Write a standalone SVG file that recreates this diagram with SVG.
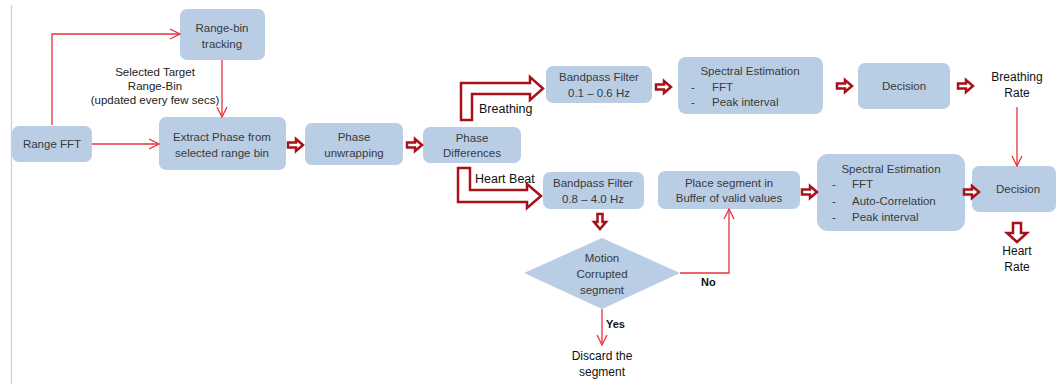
<svg xmlns="http://www.w3.org/2000/svg" width="1057" height="385" viewBox="0 0 1057 385">
<defs>
<style>
.box{fill:#b9cde5;stroke:none}
.bt{font-family:"Liberation Sans",Arial,sans-serif;font-size:11.5px;fill:#3a3a3a;text-anchor:middle}
.bl{font-family:"Liberation Sans",Arial,sans-serif;font-size:11.5px;fill:#3a3a3a}
.lb{font-family:"Liberation Sans",Arial,sans-serif;font-size:12px;fill:#111;text-anchor:middle}
.lbs{font-family:"Liberation Sans",Arial,sans-serif;font-size:11.5px;fill:#222;text-anchor:middle}
.yn{font-family:"Liberation Sans",Arial,sans-serif;font-size:11px;font-weight:bold;fill:#111}
.ln{fill:none;stroke:#e8323c;stroke-width:1.3}
.blk{fill:#fff;stroke:#a8101a;stroke-width:2.5;stroke-linejoin:miter}
</style>
<marker id="ah" viewBox="0 0 12 12" refX="11" refY="6" markerWidth="12" markerHeight="12" markerUnits="userSpaceOnUse" orient="auto">
<path d="M1,1 L11,6 L1,11" fill="none" stroke="#e8323c" stroke-width="1.3"/>
</marker>
<path id="sa" d="M0,-2.5 L8,-2.5 L8,-6 L15,0 L8,6 L8,2.5 L0,2.5 Z"/>
</defs>
<rect width="1057" height="385" fill="#fff"/>
<line x1="11.5" y1="5" x2="11.5" y2="384" stroke="#d0d0d0" stroke-width="1.3"/>

<g id="range-fft"><rect class="box" x="12" y="126" width="80" height="36" rx="7"/><text class="bt" x="52" y="148">Range FFT</text></g>
<g id="range-bin-tracking"><rect class="box" x="180" y="9" width="85" height="51" rx="7"/><text class="bt" x="222" y="32">Range-bin</text><text class="bt" x="222" y="48">tracking</text></g>
<g id="selected-label"><text class="lbs" x="155" y="76">Selected Target</text><text class="lbs" x="155" y="90">Range-Bin</text><text class="lbs" x="155" y="104">(updated every few secs)</text></g>
<g id="extract-phase"><rect class="box" x="159" y="117" width="127" height="53" rx="7"/><text class="bt" x="222" y="141">Extract Phase from</text><text class="bt" x="222" y="157">selected  range bin</text></g>
<g id="phase-unwrapping"><rect class="box" x="305" y="123" width="98" height="42" rx="7"/><text class="bt" x="354" y="141">Phase</text><text class="bt" x="354" y="157">unwrapping</text></g>
<g id="phase-differences"><rect class="box" x="423" y="127" width="98" height="36" rx="7"/><text class="bt" x="472" y="142">Phase</text><text class="bt" x="472" y="157">Differences</text></g>
<g id="breathing-label"><text class="bl" x="479" y="113" style="font-size:12.5px;fill:#111">Breathing</text></g>
<g id="heartbeat-label"><text class="bl" x="475" y="183" style="font-size:12.5px;fill:#111">Heart Beat</text></g>
<g id="bpf-breathing"><rect class="box" x="546" y="66" width="106" height="37" rx="7"/><text class="bt" x="599" y="81">Bandpass Filter</text><text class="bt" x="599" y="97">0.1 – 0.6 Hz</text></g>
<g id="spectral-breathing"><rect class="box" x="678" y="57" width="145" height="57" rx="8"/><text class="bt" x="750" y="75">Spectral Estimation</text><text class="bl" x="691" y="91">-</text><text class="bl" x="712" y="91">FFT</text><text class="bl" x="691" y="106">-</text><text class="bl" x="712" y="106">Peak interval</text></g>
<g id="decision-breathing"><rect class="box" x="858" y="63" width="92" height="46" rx="7"/><text class="bt" x="904" y="90">Decision</text></g>
<g id="breathing-rate"><text class="lb" x="1017" y="81">Breathing</text><text class="lb" x="1017" y="97">Rate</text></g>
<g id="bpf-heart"><rect class="box" x="543" y="172" width="101" height="37" rx="7"/><text class="bt" x="593" y="187">Bandpass Filter</text><text class="bt" x="593" y="203">0.8 – 4.0 Hz</text></g>
<g id="place-segment"><rect class="box" x="658" y="171" width="142" height="38" rx="7"/><text class="bt" x="729" y="187">Place segment in</text><text class="bt" x="729" y="202">Buffer of valid values</text></g>
<g id="spectral-heart"><rect class="box" x="817" y="154" width="148" height="77" rx="11"/><text class="bt" x="891" y="173">Spectral Estimation</text><text class="bl" x="832" y="188">-</text><text class="bl" x="852" y="188">FFT</text><text class="bl" x="832" y="205">-</text><text class="bl" x="852" y="205">Auto-Correlation</text><text class="bl" x="832" y="221">-</text><text class="bl" x="852" y="221">Peak interval</text></g>
<g id="decision-heart"><rect class="box" x="972" y="166" width="84" height="46" rx="7"/><text class="bt" x="1018" y="193">Decision</text></g>
<g id="heart-rate"><text class="lb" x="1017" y="255">Heart</text><text class="lb" x="1017" y="271">Rate</text></g>
<g id="motion-corrupted"><polygon class="box" points="602,238 680,273 602,309 524,273"/><text class="bt" x="602" y="262">Motion</text><text class="bt" x="602" y="278">Corrupted</text><text class="bt" x="602" y="294">segment</text></g>
<g id="no-label"><text class="yn" x="701" y="286">No</text></g>
<g id="yes-label"><text class="yn" x="606" y="328">Yes</text></g>
<g id="discard"><text class="lb" x="602" y="360">Discard the</text><text class="lb" x="602" y="376">segment</text></g>

<g id="connectors">
<path class="ln" d="M52,125 L52,34 L180,34" marker-end="url(#ah)"/>
<path class="ln" d="M92,144 L159,144" marker-end="url(#ah)"/>
<path class="ln" d="M222,60 L222,117" marker-end="url(#ah)"/>
<path class="ln" d="M1017,107 L1017,166" marker-end="url(#ah)"/>
<path class="ln" d="M680,273 L729,273 L729,209" marker-end="url(#ah)"/>
<path class="ln" d="M602,309 L602,345" marker-end="url(#ah)"/>
<use href="#sa" class="blk" x="288" y="145"/>
<use href="#sa" class="blk" x="407" y="145"/>
<use href="#sa" class="blk" x="656" y="87"/>
<use href="#sa" class="blk" x="837" y="86"/>
<use href="#sa" class="blk" x="958" y="86"/>
<use href="#sa" class="blk" x="802" y="192"/>
<use href="#sa" class="blk" x="964" y="192"/>
<use href="#sa" class="blk" transform="translate(600,214) rotate(90)"/>
<path class="blk" d="M1013,223 L1021,223 L1021,233 L1027,233 L1017,242 L1007,233 L1013,233 Z"/>
<path class="blk" d="M461,120 L461,83 L530,83 L530,77 L543,88.5 L530,100 L530,94 L472,94 L472,120 Z"/>
<path class="blk" d="M458,168 L470,168 L470,190 L527,190 L527,184 L541,196 L527,208 L527,202 L458,202 Z"/>
</g>
</svg>
